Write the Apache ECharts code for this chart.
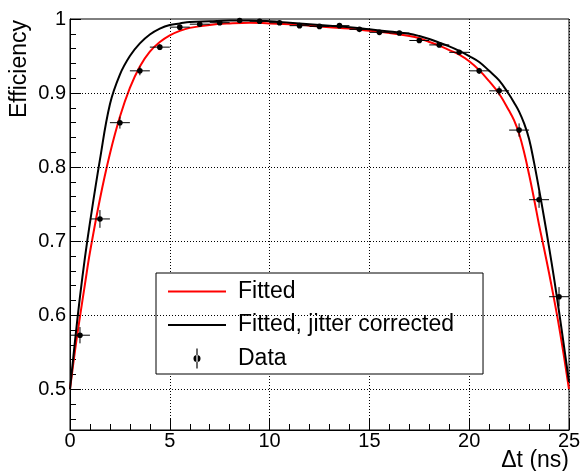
<!DOCTYPE html>
<html><head><meta charset="utf-8">
<script src="https://cdn.jsdelivr.net/npm/echarts@6/dist/echarts.min.js"></script>
<style>html,body{margin:0;padding:0;background:#fff}#c{width:580px;height:471px}</style>
</head><body><div id="c"></div>
<script>
// ---- data ----
const curveT = [0,0.25,0.5,0.75,1,1.5,2,2.5,3,3.5,4,4.5,5,5.5,6,7,8,9,10,11,12,13,14,15,16,17,17.5,18,18.5,19,19.5,20,20.5,21,21.5,22,22.25,22.5,22.75,23,23.25,23.5,23.75,24,24.25,24.5,24.75,25];
const fittedEff = [0.500,0.552,0.598,0.642,0.685,0.757,0.818,0.868,0.907,0.936,0.956,0.969,0.978,0.984,0.988,0.992,0.994,0.995,0.994,0.993,0.991,0.989,0.987,0.984,0.981,0.977,0.974,0.969,0.964,0.958,0.952,0.943,0.931,0.916,0.899,0.876,0.863,0.845,0.820,0.790,0.757,0.722,0.690,0.657,0.622,0.585,0.544,0.500];
const jitterEff = [0.500,0.565,0.625,0.678,0.725,0.810,0.885,0.925,0.950,0.967,0.979,0.987,0.992,0.994,0.996,0.997,0.998,0.998,0.997,0.995,0.993,0.991,0.989,0.986,0.983,0.980,0.977,0.973,0.968,0.963,0.957,0.950,0.942,0.930,0.917,0.898,0.887,0.875,0.859,0.838,0.806,0.770,0.732,0.692,0.650,0.605,0.558,0.510];
const dataT = [0.5,1.5,2.5,3.5,4.5,5.5,6.5,7.5,8.5,9.5,10.5,11.5,12.5,13.5,14.5,15.5,16.5,17.5,18.5,19.5,20.5,21.5,22.5,23.5,24.5];
const dataEff = [0.573,0.730,0.860,0.930,0.962,0.989,0.993,0.995,0.998,0.997,0.995,0.991,0.990,0.991,0.986,0.982,0.981,0.971,0.965,0.955,0.930,0.903,0.850,0.756,0.625];
const dataEffErr = [0.011,0.012,0.008,0.006,0.004,0.003,0.002,0.002,0.002,0.002,0.002,0.002,0.002,0.002,0.002,0.002,0.002,0.003,0.003,0.003,0.004,0.006,0.009,0.011,0.013];
const dataTErr = [0.5,0.5,0.5,0.5,0.5,0.5,0.5,0.5,0.5,0.5,0.5,0.5,0.5,0.5,0.5,0.5,0.5,0.5,0.5,0.5,0.5,0.5,0.5,0.5,0.5];
const yMajorTicks = [0.5,0.6,0.7,0.8,0.9,1.0];
const yMinorTicks = [0.46,0.48,0.52,0.54,0.56,0.58,0.62,0.64,0.66,0.68,0.72,0.74,0.76,0.78,0.82,0.84,0.86,0.88,0.92,0.94,0.96,0.98];
const yGridLines = [0.5,0.6,0.7,0.8,0.9];
const seriesNames = ['Fitted','Fitted, jitter corrected','Data'];
const xTitle = 'Δt (ns)';
const yTitle = 'Efficiency';
// --------------------------------------

const FONT = 'Liberation Sans, Arial, Helvetica, sans-serif';
const chart = echarts.init(document.getElementById('c'), null, {renderer:'canvas'});
const Y_MIN = 0.445, Y_MAX = 1.0;
const LINE_ICON = 'path://M0,0 L58,0 L58,2 L0,2 Z';
const DATA_ICON = 'path://M2.5,0 L3.5,0 L3.5,17 L2.5,17 Z M0,8.5 A3,3 0 1,0 6,8.5 A3,3 0 1,0 0,8.5 Z';

const option = {
  animation: false,
  backgroundColor: '#fff',
  grid: {left:70, right:11, top:19, bottom:41, show:true, borderColor:'#000', borderWidth:1, backgroundColor:'transparent', containLabel:false, outerBoundsMode:'none'},
  xAxis: {
    type:'value', min:0, max:25, interval:5,
    axisLine:{show:true, lineStyle:{color:'#000', width:1}},
    axisTick:{show:true, inside:true, length:11, lineStyle:{color:'#000'}},
    minorTick:{show:true, splitNumber:5, length:6, lineStyle:{color:'#000'}},
    axisLabel:{fontFamily:FONT, fontSize:20, color:'#000', margin:1, showMinLabel:true, showMaxLabel:true},
    splitLine:{show:true, lineStyle:{color:'#000', width:1, type:[1,2]}}
  },
  yAxis: [
    {
      type:'value', min:Y_MIN, max:Y_MAX,
      axisLine:{show:true, lineStyle:{color:'#000', width:1}},
      axisTick:{show:true, inside:true, length:11, customValues:yMajorTicks, lineStyle:{color:'#000'}},
      axisLabel:{fontFamily:FONT, fontSize:20, color:'#000', margin:4, customValues:yMajorTicks,
        formatter: v => String(Math.round(v*10)/10)},
      splitLine:{show:false}
    },
    {
      type:'value', min:Y_MIN, max:Y_MAX, position:'left', offset:0,
      axisLine:{show:false},
      axisTick:{show:true, inside:true, length:6, customValues:yMinorTicks, lineStyle:{color:'#000'}},
      axisLabel:{show:false, customValues:yMinorTicks},
      splitLine:{show:false}
    }
  ],
  legend: {
    orient:'vertical', left:156, top:273,
    padding:[7,29,4,12], itemGap:10.5, itemWidth:58, itemHeight:20,
    backgroundColor:'#fff', borderColor:'#000', borderWidth:1,
    textStyle:{fontFamily:FONT, fontSize:23, color:'#000', lineHeight:20, padding:[0,0,0,7]},
    selectedMode:false,
    data:[
      {name:seriesNames[0], icon:LINE_ICON},
      {name:seriesNames[1], icon:LINE_ICON},
      {name:seriesNames[2], icon:DATA_ICON}
    ]
  },
  graphic: [
    {type:'text', x:20, y:69, rotation:Math.PI/2,
     style:{text:yTitle, fontFamily:FONT, fontSize:23, fill:'#000', textAlign:'center', textVerticalAlign:'middle'}},
    {type:'text', x:569, y:461,
     style:{text:xTitle, fontFamily:FONT, fontSize:23, fill:'#000', textAlign:'right', textVerticalAlign:'middle'}}
  ],
  series: [
    {
      name:'__grid', type:'line', data:[], silent:true, z:1,
      markLine:{silent:true, symbol:['none','none'], label:{show:false}, animation:false,
        lineStyle:{color:'#000', width:1, type:[1,2]},
        data: yGridLines.map(v => ({yAxis:v}))}
    },
    {
      name:seriesNames[0], type:'line', symbol:'none', smooth:0.4, z:3,
      data: curveT.map((t,i) => [t, fittedEff[i]]),
      lineStyle:{color:'#ff0000', width:2}, itemStyle:{color:'#ff0000'}
    },
    {
      name:seriesNames[1], type:'line', symbol:'none', smooth:0.4, z:4,
      data: curveT.map((t,i) => [t, jitterEff[i]]),
      lineStyle:{color:'#000', width:2}, itemStyle:{color:'#000'}
    },
    {
      name:seriesNames[2], type:'custom', z:5,
      itemStyle:{color:'#000'},
      encode:{x:0, y:1},
      data: dataT.map((t,i) => [t, dataEff[i], dataEffErr[i], dataTErr[i]]),
      renderItem: function(params, api){
        const x = api.value(0), y = api.value(1), ey = api.value(2), ex = api.value(3);
        const c = api.coord([x,y]);
        const l = api.coord([x-ex,y]), r = api.coord([x+ex,y]);
        const t = api.coord([x,y+ey]), b = api.coord([x,y-ey]);
        return {type:'group', children:[
          {type:'line', shape:{x1:l[0],y1:l[1],x2:r[0],y2:r[1]}, style:{stroke:'#000', lineWidth:1}},
          {type:'line', shape:{x1:t[0],y1:t[1],x2:b[0],y2:b[1]}, style:{stroke:'#000', lineWidth:1}},
          {type:'circle', shape:{cx:c[0],cy:c[1],r:2.8}, style:{fill:'#000'}}
        ]};
      }
    }
  ]
};
chart.setOption(option);
</script>
</body></html>
